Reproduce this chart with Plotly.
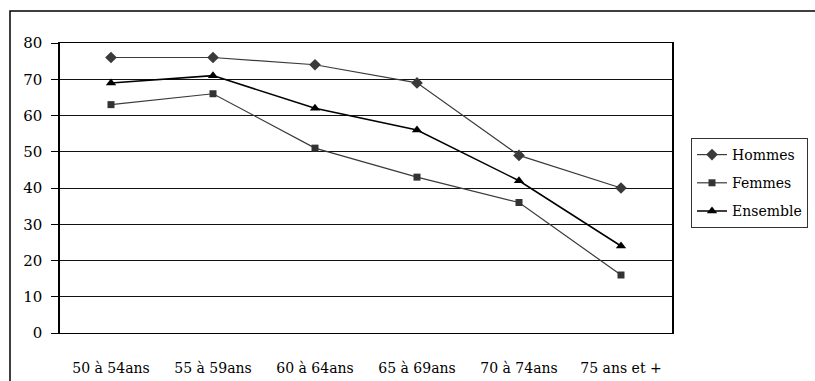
import plotly.graph_objects as go

categories = ["50 à 54ans", "55 à 59ans", "60 à 64ans", "65 à 69ans", "70 à 74ans", "75 ans et +"]
hommes = [76, 76, 74, 69, 49, 40]
femmes = [63, 66, 51, 43, 36, 16]
ensemble = [69, 71, 62, 56, 42, 24]

FONT = "DejaVu Serif"

fig = go.Figure()
fig.add_trace(go.Scatter(x=categories, y=hommes, name="Hommes", mode="lines+markers",
                         legendgroup="h",
                         line=dict(color="#3a3a3a", width=1.2),
                         marker=dict(symbol="diamond", size=9, color="#3a3a3a")))
fig.add_trace(go.Scatter(x=categories, y=femmes, name="Femmes", mode="lines+markers",
                         legendgroup="f",
                         line=dict(color="#3a3a3a", width=1.2),
                         marker=dict(symbol="square", size=7, color="#333333")))
fig.add_trace(go.Scatter(x=categories, y=ensemble, name="Ensemble", mode="lines+markers",
                         legendgroup="e",
                         line=dict(color="#000000", width=1.5),
                         marker=dict(symbol="triangle-up", size=9, color="#000000")))

L, R, T, B = 60, 672, 43, 333
W, H = 815, 381
pw, ph = R - L, B - T

fig.update_layout(
    width=W, height=H,
    margin=dict(l=L, r=W - R, t=T, b=H - B, pad=0, autoexpand=False),
    paper_bgcolor="white", plot_bgcolor="white",
    font=dict(family=FONT, size=14, color="#000"),
    showlegend=True,
    legend=dict(x=(691 - L) / pw, y=1 - (138 - T) / ph, xanchor="left", yanchor="top",
                bordercolor="#333", borderwidth=1, bgcolor="white",
                font=dict(family=FONT, size=14), itemwidth=30,
                tracegroupgap=7),
    xaxis=dict(type="category", range=[-0.5, 5.5], showgrid=False, showline=True,
               linecolor="#000", linewidth=1, mirror=True, ticks="", automargin=False,
               ticklabelstandoff=22, tickfont=dict(family=FONT, size=14)),
    yaxis=dict(range=[0, 80], dtick=10, showgrid=True, gridcolor="#111", gridwidth=1,
               showline=True, linecolor="#000", linewidth=1.5, mirror=True, automargin=False,
               ticks="outside", ticklen=7, tickcolor="#000", ticklabelstandoff=6,
               zeroline=False, tickfont=dict(family=FONT, size=15)),
    shapes=[dict(type="rect", xref="paper", yref="paper",
                 x0=(10 - L) / pw, x1=(830 - L) / pw,
                 y0=1 - (400 - T) / ph, y1=1 + (T - 11) / ph,
                 line=dict(color="#000", width=1.5), fillcolor="rgba(0,0,0,0)",
                 layer="below")],
)

fig.write_html("out.html")
